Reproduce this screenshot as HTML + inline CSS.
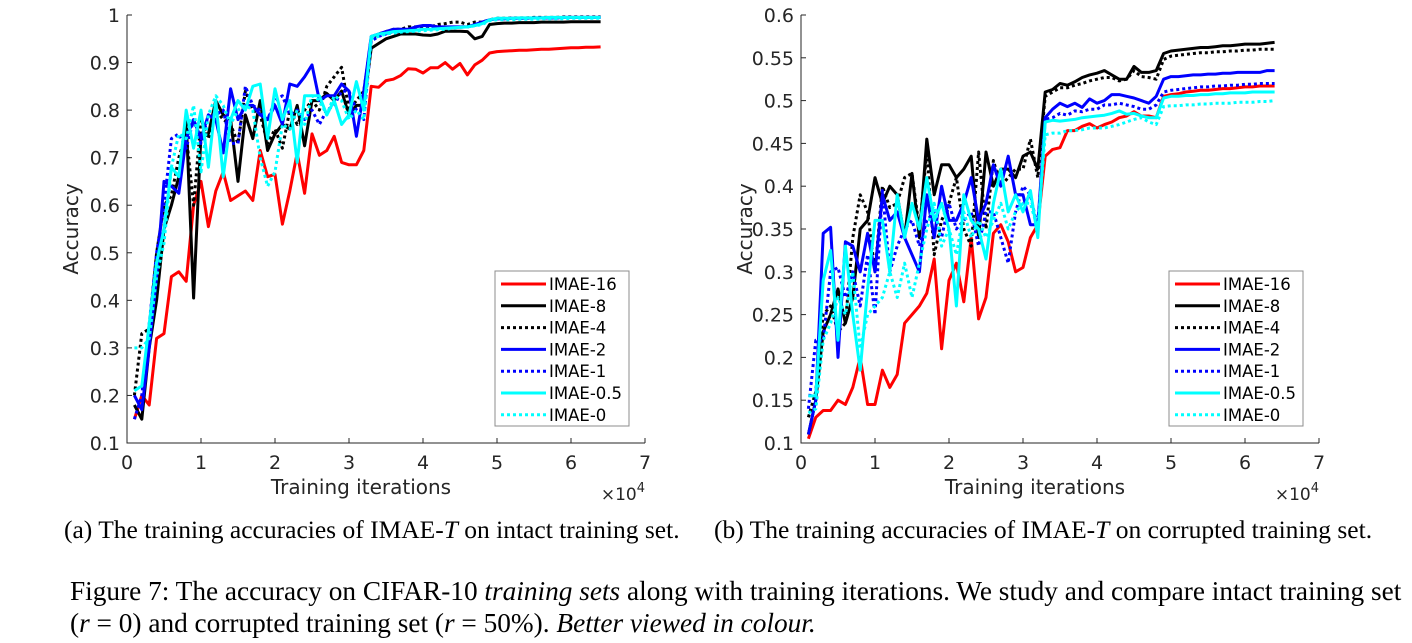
<!DOCTYPE html>
<html><head><meta charset="utf-8">
<style>
body{margin:0;background:#fff;width:1412px;height:643px;overflow:hidden;position:relative;font-family:"Liberation Serif",serif;}
svg{position:absolute;left:0;top:0}
.cap{position:absolute;font-size:25.5px;color:#000;white-space:nowrap;line-height:1}
.fig{font-size:27.3px}
</style></head><body>
<svg id="chart" width="1412" height="510" xmlns="http://www.w3.org/2000/svg"></svg>
<div class="cap" style="left:64px;top:517px">(a) The training accuracies of IMAE-<i>T</i> on intact training set.</div>
<div class="cap" style="left:714px;top:517px">(b) The training accuracies of IMAE-<i>T</i> on corrupted training set.</div>
<div class="cap fig" style="left:70px;top:578px">Figure 7: The accuracy on CIFAR-10 <i>training sets</i> along with training iterations. We study and compare intact training set</div>
<div class="cap fig" style="left:70px;top:610px">(<i>r</i> = 0) and corrupted training set (<i>r</i> = 50%). <i>Better viewed in colour.</i></div>
<script>
const iters=[];for(let i=1;i<=64;i++)iters.push(i/10);
const seriesNames=["IMAE-16","IMAE-8","IMAE-4","IMAE-2","IMAE-1","IMAE-0.5","IMAE-0"];
const seriesColors=["#ff0000","#000000","#000000","#0000ff","#0000ff","#00ffff","#00ffff"];
const seriesDotted=[false,false,true,false,true,false,true];
const xTicks=[0,1,2,3,4,5,6,7];
const yTicksA=[0.1,0.2,0.3,0.4,0.5,0.6,0.7,0.8,0.9,1];
const yTicksB=[0.1,0.15,0.2,0.25,0.3,0.35,0.4,0.45,0.5,0.55,0.6];
const a16=[0.15,0.2,0.18,0.32,0.33,0.45,0.46,0.44,0.6,0.65,0.555,0.63,0.67,0.61,0.62,0.63,0.61,0.715,0.66,0.665,0.56,0.63,0.71,0.625,0.75,0.705,0.715,0.745,0.69,0.685,0.685,0.715,0.85,0.848,0.862,0.865,0.873,0.887,0.886,0.878,0.889,0.889,0.9,0.886,0.898,0.874,0.895,0.905,0.92,0.923,0.924,0.925,0.926,0.926,0.927,0.928,0.928,0.929,0.93,0.931,0.931,0.932,0.932,0.933];
const a8=[0.18,0.15,0.3,0.4,0.55,0.6,0.66,0.78,0.405,0.75,0.75,0.82,0.79,0.78,0.65,0.79,0.74,0.82,0.715,0.75,0.77,0.76,0.81,0.725,0.82,0.82,0.835,0.82,0.84,0.79,0.81,0.81,0.93,0.94,0.95,0.955,0.96,0.96,0.96,0.958,0.957,0.96,0.966,0.966,0.966,0.965,0.95,0.955,0.98,0.982,0.983,0.983,0.984,0.984,0.984,0.985,0.985,0.985,0.985,0.986,0.986,0.986,0.986,0.986];
const a4=[0.2,0.33,0.34,0.5,0.6,0.62,0.7,0.75,0.6,0.78,0.74,0.8,0.78,0.77,0.73,0.84,0.8,0.79,0.73,0.76,0.72,0.8,0.77,0.8,0.82,0.8,0.85,0.87,0.89,0.8,0.82,0.84,0.95,0.96,0.965,0.97,0.97,0.975,0.975,0.975,0.975,0.98,0.982,0.985,0.985,0.98,0.985,0.985,0.99,0.993,0.993,0.994,0.994,0.994,0.995,0.995,0.995,0.995,0.996,0.996,0.996,0.996,0.996,0.996];
const a2=[0.2,0.17,0.3,0.45,0.65,0.64,0.625,0.74,0.78,0.74,0.79,0.78,0.71,0.845,0.78,0.81,0.81,0.79,0.78,0.81,0.77,0.855,0.85,0.87,0.895,0.82,0.83,0.83,0.855,0.84,0.745,0.84,0.955,0.96,0.965,0.97,0.97,0.97,0.975,0.978,0.978,0.975,0.975,0.975,0.975,0.975,0.98,0.985,0.99,0.992,0.992,0.993,0.993,0.993,0.994,0.994,0.994,0.994,0.995,0.995,0.995,0.995,0.995,0.995];
const a1=[0.15,0.2,0.35,0.5,0.6,0.74,0.75,0.72,0.78,0.73,0.79,0.79,0.8,0.73,0.73,0.85,0.81,0.8,0.78,0.82,0.83,0.79,0.8,0.78,0.8,0.77,0.8,0.81,0.84,0.84,0.8,0.78,0.945,0.955,0.96,0.965,0.965,0.968,0.97,0.97,0.972,0.972,0.973,0.974,0.975,0.975,0.978,0.982,0.99,0.992,0.992,0.993,0.993,0.993,0.994,0.994,0.994,0.994,0.995,0.995,0.995,0.995,0.995,0.995];
const a05=[0.21,0.22,0.35,0.48,0.55,0.68,0.66,0.8,0.72,0.8,0.68,0.82,0.66,0.78,0.82,0.8,0.85,0.855,0.74,0.845,0.78,0.82,0.69,0.83,0.83,0.83,0.79,0.82,0.77,0.79,0.86,0.8,0.955,0.96,0.962,0.965,0.966,0.967,0.968,0.97,0.97,0.971,0.972,0.973,0.974,0.975,0.978,0.982,0.99,0.993,0.993,0.993,0.994,0.994,0.994,0.994,0.995,0.995,0.995,0.995,0.995,0.995,0.995,0.995];
const a0=[0.3,0.3,0.32,0.45,0.52,0.68,0.75,0.74,0.81,0.67,0.79,0.83,0.81,0.77,0.8,0.81,0.8,0.7,0.64,0.67,0.77,0.76,0.8,0.77,0.83,0.82,0.79,0.83,0.82,0.78,0.8,0.78,0.95,0.955,0.96,0.962,0.964,0.965,0.966,0.967,0.968,0.969,0.97,0.972,0.974,0.975,0.977,0.98,0.988,0.99,0.99,0.99,0.991,0.991,0.991,0.992,0.992,0.992,0.992,0.993,0.993,0.993,0.993,0.993];
const b16=[0.105,0.13,0.138,0.138,0.15,0.145,0.165,0.2,0.145,0.145,0.185,0.165,0.18,0.24,0.25,0.26,0.275,0.315,0.21,0.29,0.31,0.265,0.34,0.245,0.27,0.345,0.355,0.335,0.3,0.305,0.34,0.355,0.435,0.443,0.445,0.465,0.465,0.47,0.473,0.468,0.472,0.475,0.48,0.482,0.487,0.482,0.482,0.48,0.505,0.507,0.508,0.51,0.511,0.512,0.512,0.513,0.514,0.514,0.515,0.516,0.516,0.517,0.517,0.517];
const b8=[0.11,0.15,0.23,0.25,0.28,0.24,0.27,0.35,0.36,0.41,0.38,0.4,0.39,0.34,0.415,0.34,0.455,0.39,0.425,0.425,0.41,0.42,0.435,0.34,0.44,0.4,0.42,0.42,0.41,0.435,0.44,0.42,0.51,0.513,0.52,0.518,0.522,0.527,0.53,0.532,0.535,0.53,0.525,0.525,0.54,0.533,0.533,0.535,0.555,0.558,0.559,0.56,0.561,0.562,0.562,0.563,0.564,0.564,0.565,0.566,0.566,0.566,0.567,0.568];
const b4=[0.13,0.16,0.25,0.26,0.23,0.24,0.34,0.39,0.37,0.3,0.4,0.375,0.38,0.41,0.415,0.35,0.44,0.32,0.36,0.38,0.41,0.35,0.33,0.44,0.35,0.43,0.4,0.41,0.42,0.42,0.455,0.41,0.505,0.51,0.515,0.515,0.518,0.52,0.523,0.525,0.527,0.527,0.523,0.525,0.535,0.528,0.527,0.525,0.548,0.552,0.553,0.554,0.555,0.556,0.556,0.557,0.557,0.558,0.558,0.559,0.559,0.56,0.56,0.56];
const b2=[0.11,0.15,0.345,0.352,0.2,0.335,0.33,0.3,0.345,0.3,0.39,0.36,0.37,0.34,0.32,0.3,0.39,0.34,0.4,0.36,0.36,0.38,0.41,0.36,0.38,0.425,0.4,0.435,0.39,0.39,0.355,0.355,0.48,0.49,0.497,0.493,0.497,0.492,0.502,0.497,0.5,0.507,0.507,0.505,0.503,0.5,0.497,0.505,0.525,0.528,0.528,0.529,0.53,0.53,0.531,0.531,0.532,0.532,0.533,0.533,0.533,0.533,0.535,0.535];
const b1=[0.14,0.22,0.22,0.3,0.305,0.27,0.3,0.26,0.32,0.25,0.395,0.3,0.33,0.35,0.36,0.33,0.36,0.37,0.34,0.38,0.35,0.36,0.37,0.33,0.37,0.37,0.34,0.31,0.37,0.4,0.39,0.35,0.478,0.48,0.485,0.483,0.488,0.487,0.49,0.49,0.495,0.495,0.497,0.495,0.493,0.49,0.49,0.495,0.51,0.512,0.513,0.514,0.515,0.516,0.516,0.517,0.517,0.518,0.518,0.519,0.519,0.52,0.52,0.52];
const b05=[0.155,0.155,0.29,0.325,0.22,0.33,0.25,0.185,0.28,0.36,0.36,0.3,0.39,0.34,0.38,0.35,0.41,0.36,0.38,0.35,0.26,0.39,0.36,0.35,0.315,0.38,0.42,0.37,0.39,0.37,0.395,0.34,0.475,0.477,0.476,0.477,0.478,0.48,0.481,0.482,0.483,0.485,0.488,0.484,0.485,0.482,0.48,0.48,0.503,0.505,0.505,0.506,0.506,0.507,0.507,0.508,0.508,0.509,0.509,0.509,0.51,0.51,0.51,0.51];
const b0=[0.135,0.14,0.22,0.24,0.27,0.25,0.3,0.21,0.25,0.26,0.27,0.3,0.27,0.31,0.27,0.31,0.35,0.38,0.33,0.35,0.32,0.37,0.34,0.36,0.34,0.36,0.38,0.35,0.37,0.38,0.38,0.35,0.46,0.462,0.462,0.465,0.465,0.466,0.468,0.468,0.468,0.47,0.472,0.475,0.478,0.48,0.475,0.472,0.493,0.494,0.494,0.495,0.495,0.496,0.496,0.497,0.497,0.497,0.498,0.498,0.498,0.499,0.499,0.5];
const dataA=[a16,a8,a4,a2,a1,a05,a0];
const dataB=[b16,b8,b4,b2,b1,b05,b0];

const NS="http://www.w3.org/2000/svg";
const svg=document.getElementById('chart');
function mk(tag,attrs,parent){const e=document.createElementNS(NS,tag);for(const k in attrs)e.setAttribute(k,attrs[k]);(parent||svg).appendChild(e);return e;}
const tickFont='"DejaVu Sans","Liberation Sans",sans-serif';

function drawPanel(id,x0,x1,yTop,yBot,ymin,ymax,yTicks,data,fmt){
  const g=mk('g',{});
  
  
  const sx=v=>x0+(v-0)/7*(x1-x0);
  const sy=v=>yBot-(v-ymin)/(ymax-ymin)*(yBot-yTop);
  data.forEach((arr,si)=>{
    const pts=arr.map((v,i)=>sx(iters[i]).toFixed(1)+','+sy(v).toFixed(1)).join(' ');
    const p=mk('polyline',{points:pts,fill:'none',stroke:seriesColors[si],'stroke-width':3,'stroke-linejoin':'round'},g);
    if(seriesDotted[si])p.setAttribute('stroke-dasharray','3 3');
    
    
  });
  const ax=mk('path',{d:`M${x0},${yTop}V${yBot}H${x1}`,fill:'none',stroke:'#262626','stroke-width':1},g);
  
  
  xTicks.forEach(t=>{
    mk('line',{x1:sx(t),x2:sx(t),y1:yBot,y2:yBot-5,stroke:'#262626'},g);
    const tx=mk('text',{x:sx(t),y:yBot+26,'font-size':19,'text-anchor':'middle','font-family':tickFont,fill:'#262626'},g);
    tx.textContent=t;
    
    
  });
  yTicks.forEach(t=>{
    mk('line',{x1:x0,x2:x0+5,y1:sy(t),y2:sy(t),stroke:'#262626'},g);
    const tx=mk('text',{x:x0-7,y:sy(t)+7,'font-size':19,'text-anchor':'end','font-family':tickFont,fill:'#262626'},g);
    tx.textContent=fmt(t);
    
    
  });
  const xt=mk('text',{x:(x0+x1)/2-25,y:yBot+51,'font-size':20,'text-anchor':'middle','font-family':tickFont,fill:'#262626'},g);
  xt.textContent='Training iterations';
  
  
  const ex=mk('text',{x:x1,y:yBot+57,'font-size':17,'text-anchor':'end','font-family':tickFont,fill:'#262626'},g);
  ex.innerHTML='×10<tspan dy="-8" font-size="13">4</tspan>';
  
  
  const yt=mk('text',{x:0,y:0,'font-size':20,'text-anchor':'middle','font-family':tickFont,fill:'#262626',transform:`translate(${x0-49},${(yTop+yBot)/2}) rotate(-90)`},g);
  yt.textContent='Accuracy';
  
  
  const lx=x0+368, ly=271;
  const lg=mk('g',{},g);
  
  
  mk('rect',{x:lx,y:ly,width:134,height:155,fill:'#fff',stroke:'#8c8c8c','stroke-width':1},lg);
  seriesNames.forEach((n,i)=>{
    const yy=ly+13+i*21.8;
    const l=mk('line',{x1:lx+6,x2:lx+51,y1:yy,y2:yy,stroke:seriesColors[i],'stroke-width':3},lg);
    if(seriesDotted[i])l.setAttribute('stroke-dasharray','3 3');
    const t=mk('text',{x:lx+54,y:yy+6,'font-size':16.5,'font-family':tickFont,fill:'#000'},lg);
    t.textContent=n;
    
    
  });
}
drawPanel('chart-intact',127,645,15,443,0.1,1,yTicksA,dataA,t=>t===1?'1':t.toFixed(1));
drawPanel('chart-corrupted',801,1319,15,443,0.1,0.6,yTicksB,dataB,t=>{let s=t.toFixed(2);if(s.endsWith('0'))s=t.toFixed(1);return s;});
</script>
</body></html>
